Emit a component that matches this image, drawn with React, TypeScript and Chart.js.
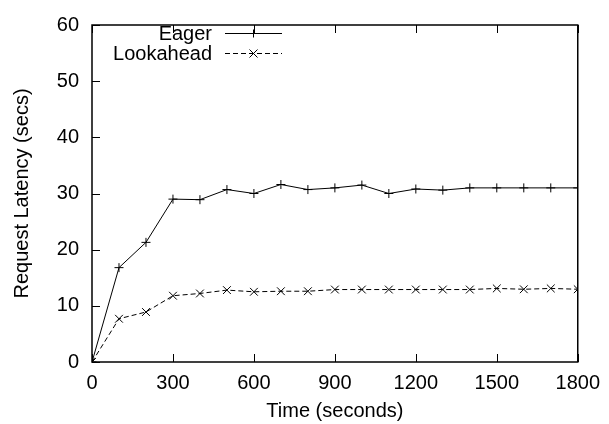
import React, { useEffect, useRef } from 'react';
import { Chart, registerables } from 'chart.js';

Chart.register(...registerables);

const times = [0, 100, 200, 300, 400, 500, 600, 700, 800, 900, 1000, 1100, 1200, 1300, 1400, 1500, 1600, 1700, 1800];
const eager = [0, 16.8, 21.3, 29.0, 28.9, 30.7, 30.0, 31.6, 30.7, 31.0, 31.5, 30.0, 30.8, 30.6, 31.0, 31.0, 31.0, 31.0, 31.0];
const lookahead = [0, 7.7, 8.9, 11.8, 12.2, 12.8, 12.5, 12.6, 12.6, 12.9, 12.9, 12.9, 12.9, 12.9, 12.9, 13.1, 12.95, 13.1, 12.95];
const seriesNames = ['Eager', 'Lookahead'];
const xTitle = 'Time (seconds)';
const yTitle = 'Request Latency (secs)';
const xMin = 0, xMax = 1800, xStep = 300;
const yMin = 0, yMax = 60, yStep = 10;

const FONT = '"Liberation Sans", Arial, Helvetica, sans-serif';
const FS = 20;

const framePlugin = {
  id: 'gnuFrame',
  afterDraw(chart: any) {
    const { ctx, chartArea } = chart;
    const { left, right, top, bottom } = chartArea;
    const xs = chart.scales.x;
    const ys = chart.scales.y;
    ctx.save();
    ctx.strokeStyle = '#000';
    ctx.lineWidth = 1.5;
    ctx.strokeRect(left, top, right - left, bottom - top);
    ctx.lineWidth = 1;
    const tl = 8;
    ctx.beginPath();
    xs.ticks.forEach((t: any) => {
      const px = Math.round(xs.getPixelForValue(t.value)) + 0.5;
      ctx.moveTo(px, bottom);
      ctx.lineTo(px, bottom - tl);
      ctx.moveTo(px, top);
      ctx.lineTo(px, top + tl);
    });
    ys.ticks.forEach((t: any) => {
      const py = Math.round(ys.getPixelForValue(t.value)) + 0.5;
      ctx.moveTo(left, py);
      ctx.lineTo(left + tl, py);
    });
    ctx.stroke();

    // legend
    const ds = chart.data.datasets;
    const textRight = 212;
    const lineL = 225;
    const lineR = 282;
    const rowY = [33, 53];
    ctx.font = `${FS}px ${FONT}`;
    ctx.fillStyle = '#000';
    ctx.textAlign = 'right';
    ctx.textBaseline = 'middle';
    ds.forEach((d: any, i: number) => {
      const y = rowY[i] + 0.5;
      ctx.fillText(d.label, textRight, rowY[i] + 1);
      ctx.setLineDash(d.borderDash || []);
      ctx.lineWidth = 1;
      ctx.beginPath();
      ctx.moveTo(lineL, y);
      ctx.lineTo(lineR, y);
      ctx.stroke();
      ctx.setLineDash([]);
      const mx = (lineL + lineR) / 2;
      ctx.beginPath();
      if (d.pointStyle === 'cross') {
        ctx.moveTo(mx - 4, y); ctx.lineTo(mx + 4, y);
        ctx.moveTo(mx, y - 4); ctx.lineTo(mx, y + 4);
      } else {
        ctx.moveTo(mx - 4, y - 4); ctx.lineTo(mx + 4, y + 4);
        ctx.moveTo(mx - 4, y + 4); ctx.lineTo(mx + 4, y - 4);
      }
      ctx.stroke();
    });
    ctx.restore();
  },
};

export default function App() {
  const ref = useRef<HTMLCanvasElement>(null);
  useEffect(() => {
    if (!ref.current) return;
    const chart = new Chart(ref.current, {
      type: 'line',
      data: {
        datasets: [
          {
            label: seriesNames[0],
            data: times.map((t, i) => ({ x: t, y: eager[i] })),
            borderColor: '#000',
            backgroundColor: '#000',
            borderWidth: 1,
            pointStyle: 'cross',
            pointRadius: 4.5,
            pointBorderWidth: 1,
            pointBorderColor: '#000',
            tension: 0,
            fill: false,
          },
          {
            label: seriesNames[1],
            data: times.map((t, i) => ({ x: t, y: lookahead[i] })),
            borderColor: '#000',
            backgroundColor: '#000',
            borderWidth: 1,
            borderDash: [5, 3],
            pointStyle: 'crossRot',
            pointRadius: 5.5,
            pointBorderWidth: 1,
            pointBorderColor: '#000',
            tension: 0,
            fill: false,
          },
        ],
      },
      options: {
        responsive: false,
        animation: false,
        layout: { padding: { left: 0, right: 30, top: 14, bottom: 0 } },
        plugins: { legend: { display: false }, tooltip: { enabled: false } },
        scales: {
          x: {
            type: 'linear',
            min: xMin,
            max: xMax,
            grid: { display: false, drawTicks: false },
            border: { display: false },
            ticks: {
              stepSize: xStep,
              color: '#000',
              font: { family: FONT, size: FS },
              padding: 9,
              maxRotation: 0,
              autoSkip: false,
              callback: (v: any) => String(v),
            },
            title: { display: true, text: xTitle, color: '#000', font: { family: FONT, size: FS }, padding: { top: 0, bottom: 1 } },
            afterFit: (s: any) => { s.height = 62; },
          },
          y: {
            type: 'linear',
            min: yMin,
            max: yMax,
            grid: { display: false, drawTicks: false },
            border: { display: false },
            ticks: {
              stepSize: yStep,
              color: '#000',
              font: { family: FONT, size: FS },
              padding: 13,
              callback: (v: any) => String(v),
            },
            title: { display: true, text: yTitle, color: '#000', font: { family: FONT, size: FS }, padding: { top: 10, bottom: 0 } },
            afterFit: (s: any) => { s.width = 92; },
          },
        },
      },
      plugins: [framePlugin],
    });
    return () => chart.destroy();
  }, []);
  return (
    <div style={{ position: 'fixed', left: 0, top: 0, width: 609, height: 424, background: '#fff' }}>
      <canvas ref={ref} width={609} height={424} />
    </div>
  );
}
